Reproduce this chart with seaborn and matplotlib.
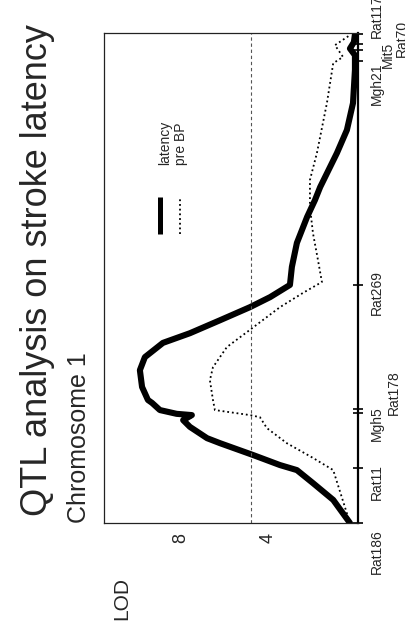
import numpy as np
import pandas as pd
import matplotlib
matplotlib.use("Agg")
import matplotlib.pyplot as plt
import matplotlib.transforms as mtransforms
import seaborn as sns

# ---------------- data ----------------
# marker positions along chromosome 1 (cM, arbitrary scale)
markers = ["Rat186", "Rat11", "Mgh5", "Rat178", "Rat269", "Mgh21", "Mit5", "Rat70", "Rat117"]
marker_pos = [0.0, 13.1, 26.2, 27.1, 56.7, 110.0, 112.6, 114.0, 116.4]

# LOD score for stroke latency
latency_pos = [0.0, 5.5, 9.5, 12.6, 13.8, 16.2, 19.0, 20.2, 22.9, 24.5, 25.7, 26.0, 26.9,
               28.6, 29.3, 32.4, 36.4, 39.5, 42.9, 45.2, 48.3, 51.4, 53.8, 56.7, 61.0,
               66.7, 72.9, 76.9, 80.0, 88.1, 93.6, 100.0, 107.9, 111.4, 113.0, 114.5, 116.4]
latency_lod = [0.23, 1.0, 1.93, 2.67, 3.45, 4.69, 6.2, 6.8, 7.59, 7.9, 7.5, 8.2, 8.97,
               9.33, 9.52, 9.79, 9.89, 9.66, 8.83, 7.59, 6.2, 4.83, 3.9, 2.99, 2.9,
               2.67, 2.2, 1.84, 1.6, 0.83, 0.37, 0.09, 0.0, 0.0, 0.23, 0.05, 0.0]

# LOD score for pre-stroke blood pressure
prebp_pos = [0.0, 12.6, 15.5, 19.0, 22.6, 25.2, 25.7, 26.9, 29.3, 34.0, 37.1, 41.9,
             46.0, 51.4, 54.8, 57.4, 62.6, 69.0, 75.2, 81.7, 88.1, 100.0, 109.5,
             111.0, 113.8, 116.2]
prebp_lod = [0.23, 1.0, 1.93, 3.13, 4.05, 4.37, 4.83, 6.44, 6.53, 6.67, 6.53, 5.89,
             4.83, 3.45, 2.39, 1.52, 1.7, 1.93, 2.07, 2.07, 1.75, 1.29, 1.0,
             0.55, 0.92, 0.23]

threshold = 4.8
lod_ticks = [8, 4]
lod_ticklabels = ["8", "4"]

# ---------------- layout / style ----------------
label_offsets = {  # (row x in axes fraction, centre shift in cM)
    "Rat186": (1.047, -6.9), "Rat11": (1.047, -3.3), "Mgh5": (1.047, -2.6),
    "Rat178": (1.114, 3.9), "Rat269": (1.047, -1.9), "Mgh21": (1.047, -5.5),
    "Mit5": (1.09, -1.0), "Rat70": (1.145, 1.4), "Rat117": (1.047, 4.3),
}

sns.set_style("white")
plt.rcParams["font.family"] = ["Liberation Sans", "DejaVu Sans"]
narrow = ["Liberation Sans Narrow", "Liberation Sans", "DejaVu Sans"]

W, H = 405, 621
fig = plt.figure(figsize=(W / 100, H / 100), dpi=100)
left, right, top, bottom = 104, 358, 33, 523
ax = fig.add_axes([left / W, 1 - bottom / H, (right - left) / W, (bottom - top) / H])

df_lat = pd.DataFrame({"pos": latency_pos, "lod": latency_lod})
df_bp = pd.DataFrame({"pos": prebp_pos, "lod": prebp_lod})

sns.lineplot(data=df_bp, x="lod", y="pos", orient="y", sort=False, estimator=None,
             color="black", lw=1.3, ax=ax)
ax.lines[-1].set_linestyle((0, (1, 1.6)))
sns.lineplot(data=df_lat, x="lod", y="pos", orient="y", sort=False, estimator=None,
             color="black", lw=4.4, ax=ax)
ax.lines[-1].set_solid_capstyle("round")
ax.lines[-1].set_solid_joinstyle("round")

ax.axvline(threshold, color="#555555", lw=0.8, ls=(0, (3, 2.5)))

ax.set_xlim(11.54, -0.14)
ax.set_ylim(0, 116.7)
ax.set_xlabel("")
ax.set_ylabel("")

for s in ["left", "top", "bottom"]:
    ax.spines[s].set_linewidth(0.9)
    ax.spines[s].set_color("#222222")
ax.spines["right"].set_linewidth(1.6)
ax.spines["right"].set_color("black")

# LOD ticks (bottom, rotated)
ax.set_xticks(lod_ticks)
ax.set_xticklabels(lod_ticklabels, rotation=90, fontsize=13)
ax.tick_params(axis="x", length=0, pad=7)

# marker ticks on the right spine
ax.yaxis.tick_right()
ax.set_yticks(marker_pos)
ax.set_yticklabels([])
ax.tick_params(axis="y", direction="inout", length=7, width=1.2, color="black")

trans = mtransforms.blended_transform_factory(ax.transAxes, ax.transData)
for name, pos in zip(markers, marker_pos):
    xr, dy = label_offsets[name]
    ax.text(xr, pos + dy, name, transform=trans, rotation=90, ha="left", va="center",
            fontsize=10, family=narrow, clip_on=False)

# legend drawn in the rotated orientation
ax.plot([0.22, 0.22], [0.59, 0.665], transform=ax.transAxes, color="black", lw=3.6,
        solid_capstyle="butt")
ax.plot([0.30, 0.30], [0.59, 0.665], transform=ax.transAxes, color="black", lw=1.3,
        ls=(0, (1, 1.6)))
ax.text(0.24, 0.731, "latency", transform=ax.transAxes, rotation=90, ha="center",
        va="bottom", fontsize=10)
ax.text(0.303, 0.731, "pre BP", transform=ax.transAxes, rotation=90, ha="center",
        va="bottom", fontsize=10)

# titles and axis name
fig.text(38 / W, 1 - 516 / H, "QTL analysis on stroke latency", rotation=90,
         ha="center", va="bottom", fontsize=26)
fig.text(79 / W, 1 - 523 / H, "Chromosome 1", rotation=90, ha="center", va="bottom",
         fontsize=18)
fig.text(122 / W, 1 - 620 / H, "LOD", rotation=90, ha="center", va="bottom", fontsize=15)

fig.savefig("out.png", dpi=100)
